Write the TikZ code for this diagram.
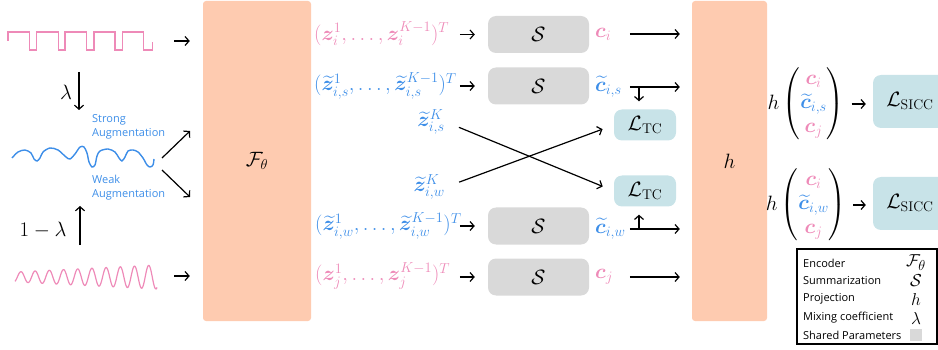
\documentclass[tikz,border=0pt]{standalone}
\usepackage{amsmath, amssymb, bm}
\usepackage{fontspec}
\newfontfamily\labelfont{Open Sans}
\usetikzlibrary{arrows.meta}
\definecolor{sigpink}{HTML}{EE8AB8}
\definecolor{augblue}{HTML}{3D8EE8}
\definecolor{encpeach}{HTML}{FECBB0}
\definecolor{sumgray}{HTML}{D9D9D9}
\definecolor{lossblue}{HTML}{C8E3E8}

\begin{document}
\begin{tikzpicture}[x=1pt,y=1pt,yscale=-1,
    every node/.style={font=\fontsize{20}{24}\selectfont, inner sep=1pt},
    arr/.style={-{Straight Barb[length=4pt,width=9pt]}, line width=1.2pt},
    encbox/.style={fill=encpeach, rounded corners=3pt},
    sumbox/.style={fill=sumgray, rounded corners=8pt, minimum width=101pt, minimum height=37pt},
    lossbox/.style={fill=lossblue, rounded corners=8pt},
    augtext/.style={anchor=west, align=left, text=augblue, font=\labelfont\fontsize{11}{14}\selectfont},
    legtext/.style={anchor=west, font=\labelfont\fontsize{11}{13}\selectfont},
    legsym/.style={font=\fontsize{19}{23}\selectfont}]
        \useasboundingbox (0,0) rectangle (938,350);

        %Shape: square wave
        \draw [sigpink, line width=1.3pt] (8,41) -- (8,32) -- (29.3,32) -- (29.3,50) -- (36.7,50) -- (36.7,32) -- (58.3,32) -- (58.3,50) -- (65,50) -- (65,32) -- (86.7,32) -- (86.7,50) -- (94,50) -- (94,32) -- (115,32) -- (115,50) -- (122.3,50) -- (122.3,32) -- (143.3,32) -- (143.3,50) -- (152.3,50) -- (152.3,42) ;
        %Shape: mixed wave
        \draw [augblue, line width=1.4pt] plot [smooth] coordinates {(12,158) (18,152) (25,150) (31,153) (34,159) (37,161) (40,158) (43,152) (50,148) (58,150) (66,157) (70,159) (75,154) (80,147) (84,147) (87,153) (89,162) (92,167) (95,165) (97,156) (100,151) (108,149) (115,152) (119,158) (122,161) (125,157) (128,151) (133,150) (138,152) (143,158) (147,165) (150,167) (153,165) (154,159)} ;
        %Shape: chirp wave
        \draw [sigpink, line width=1.2pt] plot [domain=15:157, samples=300, smooth] (\x, {277 - (5 + 7*(\x-15)/142)*sin((\x-15)/14.2*360 - 60)}) ;

        \coordinate (sqout) at (174,41);
        \coordinate (sinout) at (174,276);
        \coordinate (augup) at (162,158);
        \coordinate (augdn) at (162,170);

        % Encoder and projection
        \node (enc) [encbox, minimum width=108pt, minimum height=320pt] at (257,161) {$\mathcal{F}_\theta$};
        \node (hbox) [encbox, minimum width=75pt, minimum height=320pt] at (729.5,161) {$h$};

        %Mixing arrows
        \draw [arr] (79,72) -- (79,110) ;
        \node (lam) at (66,92) {$\lambda$};
        \draw [arr] (80,245) -- (80,206) ;
        \node (onelam) at (43,230) {$1-\lambda$};
        \node (strong) [augtext] at (91,127) {Strong\\Augmentation};
        \node (weak) [augtext] at (91,188) {Weak\\Augmentation};

        %Signals to encoder
        \draw [arr] (sqout) -- (sqout -| enc.west) [shorten >=13pt] ;
        \draw [arr] (sinout) -- (sinout -| enc.west) [shorten >=13pt] ;
        \draw [arr] (augup) -- (190,131) ;
        \draw [arr] (augdn) -- (190,197) ;

        % Text Node
        \node (zi) [anchor=west, text=sigpink] at (313,34) {$(\bm z_i^1,\ldots,\bm z_i^{K-1})^T$};
        \node (zis) [anchor=west, text=augblue] at (313,86) {$(\widetilde{\bm z}_{i,s}^1,\ldots,\widetilde{\bm z}_{i,s}^{K-1})^T$};
        \node (zKs) [anchor=east, text=augblue] at (446,122) {$\widetilde{\bm z}_{i,s}^K$};
        \node (zKw) [anchor=east, text=augblue] at (446,187) {$\widetilde{\bm z}_{i,w}^K$};
        \node (ziw) [anchor=west, text=augblue] at (314,226) {$(\widetilde{\bm z}_{i,w}^1,\ldots,\widetilde{\bm z}_{i,w}^{K-1})^T$};
        \node (zj) [anchor=west, text=sigpink] at (314,276) {$(\bm z_j^1,\ldots,\bm z_j^{K-1})^T$};

        %Summarization
        \node (s1) [sumbox] at (538.5,34.5) {$\mathcal{S}$};
        \node (s2) [sumbox] at (538.5,86) {$\mathcal{S}$};
        \node (s4) [sumbox] at (538.5,226) {$\mathcal{S}$};
        \node (s5) [sumbox] at (538.5,277) {$\mathcal{S}$};
        \foreach \s in {s1,s2,s4,s5}
            \draw [arr] ([xshift=-28pt]\s.west) -- ([xshift=-13pt]\s.west) ;

        % Text Node
        \node (ci) [anchor=west, text=sigpink] at (594,34) {$\bm c_i$};
        \node (cis) [anchor=west, text=augblue] at (594,87) {$\widetilde{\bm c}_{i,s}$};
        \node (ciw) [anchor=west, text=augblue] at (594,229) {$\widetilde{\bm c}_{i,w}$};
        \node (cj) [anchor=west, text=sigpink] at (594,277) {$\bm c_j$};
        \foreach \c in {ci,cis,ciw,cj}
            \draw [arr] ([xshift=-62pt]\c -| hbox.west) -- ([xshift=-12pt]\c -| hbox.west) ;

        %Temporal contrast
        \node (tc1) [lossbox, minimum width=62pt, minimum height=31pt] at (645,125) {$\mathcal{L}_{\text{TC}}$};
        \node (tc2) [lossbox, minimum width=62pt, minimum height=31pt] at (645,191) {$\mathcal{L}_{\text{TC}}$};
        \coordinate (taps) at (639,87);
        \coordinate (tapw) at (639,229);
        \draw [arr, shorten >=8pt] (taps) -- (taps |- tc1.north) ;
        \draw [arr, shorten >=8pt] (tapw) -- (tapw |- tc2.south) ;
        \draw [arr, shorten <=14pt, shorten >=12pt] (zKs.east) -- (tc2.west) ;
        \draw [arr, shorten <=14pt, shorten >=12pt] (zKw.east) -- (tc1.west) ;

        %Instance contrast
        \node (hs) at (806,104) {$h\begin{pmatrix} \textcolor{sigpink}{\bm c_i}\\ \textcolor{augblue}{\widetilde{\bm c}_{i,s}}\\ \textcolor{sigpink}{\bm c_j}\end{pmatrix}$};
        \node (hw) at (806,205) {$h\begin{pmatrix} \textcolor{sigpink}{\bm c_i}\\ \textcolor{augblue}{\widetilde{\bm c}_{i,w}}\\ \textcolor{sigpink}{\bm c_j}\end{pmatrix}$};
        \node (sicc1) [lossbox, minimum width=74pt, minimum height=53pt] at (910,101.5) {$\mathcal{L}_{\text{SICC}}$};
        \node (sicc2) [lossbox, minimum width=74pt, minimum height=53pt] at (910,203.5) {$\mathcal{L}_{\text{SICC}}$};
        \draw [arr, shorten <=6pt, shorten >=7pt] (hs.east) -- (hs.east -| sicc1.west) ;
        \draw [arr, shorten <=6pt, shorten >=7pt] (hw.east) -- (hw.east -| sicc2.west) ;

        %Legend
        \node (legend) [draw, line width=1.3pt, minimum width=140pt, minimum height=95pt] at (867,296.5) {};
        \node (lenc) [legtext] at (802,263) {Encoder};
        \node (lsum) [legtext] at (802,281) {Summarization};
        \node (lproj) [legtext] at (802,299) {Projection};
        \node (lmix) [legtext] at (802,318) {Mixing coefficient};
        \node (lshare) [legtext] at (802,335) {Shared Parameters};
        \node (senc) [legsym] at (916,263) {$\mathcal{F}_\theta$};
        \node (ssum) [legsym] at (916,281) {$\mathcal{S}$};
        \node (sproj) [legsym] at (916,299) {$h$};
        \node (smix) [legsym] at (916,318) {$\lambda$};
        \node (sshare) [fill=sumgray, minimum size=12pt, inner sep=0pt] at (916,335) {};
\end{tikzpicture}
\end{document}
